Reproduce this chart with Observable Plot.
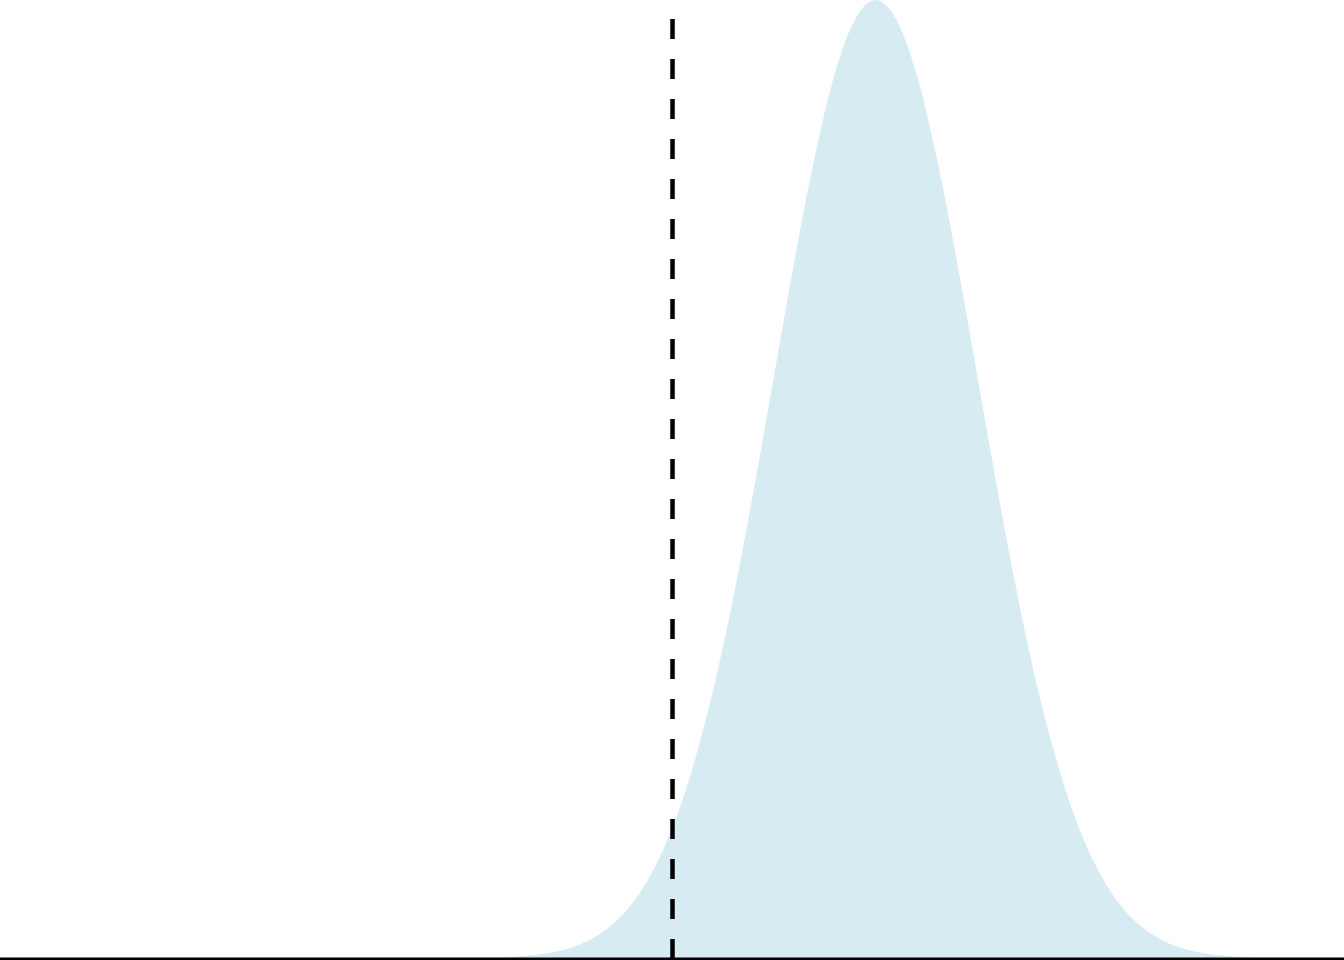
<!DOCTYPE html>
<html>
<head>
<meta charset="utf-8">
<script src="https://cdn.jsdelivr.net/npm/d3@7"></script>
<script src="https://cdn.jsdelivr.net/npm/@observablehq/plot@0.6"></script>
<style>
  html, body { margin: 0; padding: 0; background: #fff; }
  #chart svg { display: block; }
</style>
</head>
<body>
<div id="chart"></div>
<script>
// Values
const xValues = [-2.0, -1.8, -1.6, -1.4, -1.2, -1.0, -0.8, -0.6, -0.4, -0.2,
  0.0, 0.2, 0.4, 0.6, 0.8, 1.0, 1.2, 1.4, 1.6, 1.8,
  2.0, 2.2, 2.4, 2.6, 2.8, 3.0, 3.2, 3.4, 3.6, 3.8,
  4.0, 4.2, 4.4, 4.6, 4.8, 5.0, 5.2, 5.4, 5.6, 5.8, 6.0];
const densityValues = [0.0001, 0.0003, 0.0006, 0.0012, 0.0024, 0.0044, 0.0079, 0.0136, 0.0224, 0.0355,
  0.0540, 0.0790, 0.1109, 0.1497, 0.1942, 0.2420, 0.2897, 0.3332, 0.3683, 0.3910,
  0.3989, 0.3910, 0.3683, 0.3332, 0.2897, 0.2420, 0.1942, 0.1497, 0.1109, 0.0790,
  0.0540, 0.0355, 0.0224, 0.0136, 0.0079, 0.0044, 0.0024, 0.0012, 0.0006, 0.0003, 0.0001];
const nullValue = [0];
const xDomain = [-6.6, 6.6];

const curve = xValues.map((x, i) => ({x, density: densityValues[i]}));

const plot = Plot.plot({
  width: 1344,
  height: 960,
  marginTop: 0,
  marginRight: 0,
  marginLeft: 0,
  marginBottom: 1.5,
  x: {domain: xDomain, axis: null},
  y: {domain: [0, 0.3989], axis: null},
  marks: [
    Plot.areaY(curve, {x: "x", y: "density", fill: "lightblue", fillOpacity: 0.5, curve: "monotone-x"}),
    Plot.ruleX(nullValue, {stroke: "black", strokeWidth: 4.5, strokeDasharray: "20,20", insetTop: 19}),
    Plot.ruleY([0], {stroke: "black", strokeWidth: 3})
  ]
});
document.getElementById("chart").appendChild(plot);
</script>
</body>
</html>
